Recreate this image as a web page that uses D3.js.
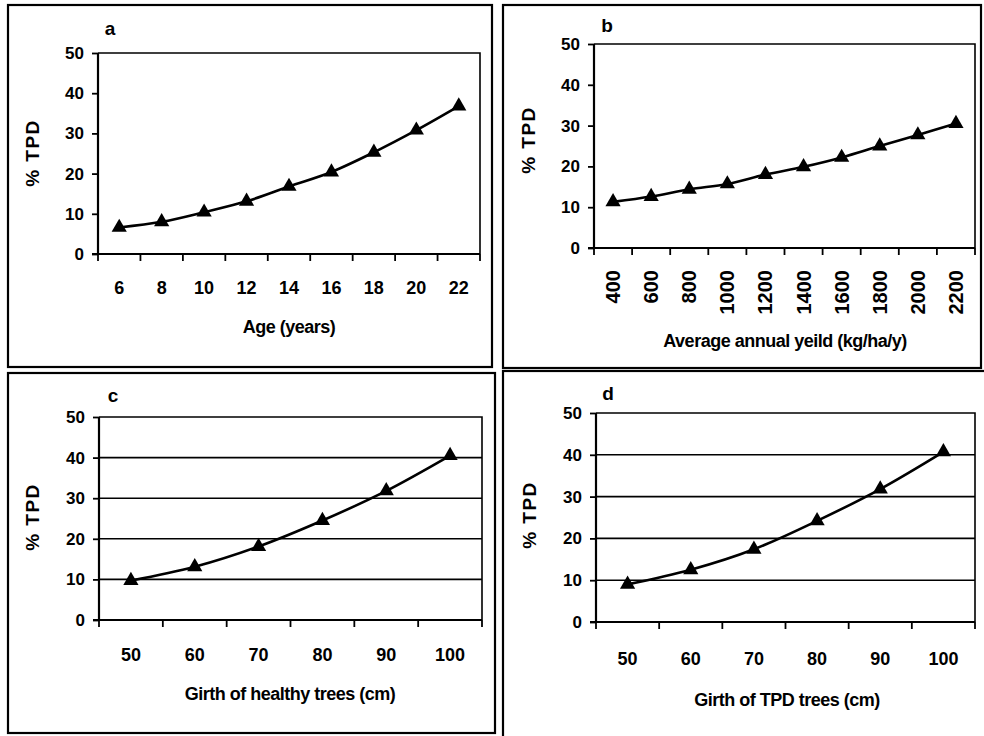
<!DOCTYPE html>
<html>
<head>
<meta charset="utf-8">
<script src="https://cdn.jsdelivr.net/npm/d3@7/dist/d3.min.js"></script>
<style>
  html, body { margin: 0; padding: 0; background: #fff; }
  svg { display: block; }
  text { font-family: "Liberation Sans", Arial, sans-serif; font-weight: bold; fill: #000; }
</style>
</head>
<body>
<svg id="chart" width="984" height="736"></svg>
<script>
// ---- Data ----
const ageCategories = ["6", "8", "10", "12", "14", "16", "18", "20", "22"];
const ageTPD = [6.6, 8.0, 10.4, 13.1, 16.8, 20.4, 25.3, 30.8, 36.8];

const yieldCategories = ["400", "600", "800", "1000", "1200", "1400", "1600", "1800", "2000", "2200"];
const yieldTPD = [11.3, 12.6, 14.4, 15.7, 18.0, 19.9, 22.2, 25.0, 27.7, 30.5];

const healthyGirthCategories = ["50", "60", "70", "80", "90", "100"];
const healthyGirthTPD = [9.7, 13.1, 18.1, 24.5, 31.8, 40.5];

const tpdGirthCategories = ["50", "60", "70", "80", "90", "100"];
const tpdGirthTPD = [9.0, 12.5, 17.4, 24.2, 31.8, 40.7];

const yTicks = [0, 10, 20, 30, 40, 50];

const panelLetters = ["a", "b", "c", "d"];
const xTitles = ["Age (years)", "Average annual yeild (kg/ha/y)", "Girth of healthy trees (cm)", "Girth of TPD trees (cm)"];
const yTitle = "% TPD";

// ---- Layout ----
const layouts = [
  { frame: [8, 5, 492, 367], plot: [98, 53, 480, 254], ytitle: [32, 153], letter: [110, 35], tickBase: 294, xtitle: [289, 333], rotate: false, grid: false },
  { frame: [503, 5, 981, 368], plot: [594, 44, 975, 248], ytitle: [528, 140], letter: [607, 32], tickBase: 270, xtitle: [785, 347], rotate: true, grid: false },
  { frame: [8, 373, 495, 733], plot: [99, 417, 482, 620], ytitle: [32, 517], letter: [113, 402], tickBase: 661, xtitle: [290, 700], rotate: false, grid: true },
  { frame: [503, 371, 990, 745], plot: [596, 413, 975, 622], ytitle: [529, 515], letter: [608, 400], tickBase: 665, xtitle: [787, 706], rotate: false, grid: true }
];

const datasets = [
  [ageCategories, ageTPD],
  [yieldCategories, yieldTPD],
  [healthyGirthCategories, healthyGirthTPD],
  [tpdGirthCategories, tpdGirthTPD]
];

const svg = d3.select("#chart");

datasets.forEach(([cats, vals], i) => {
  const L = layouts[i];
  const g = svg.append("g");
  const [fx0, fy0, fx1, fy1] = L.frame;
  g.append("rect").attr("x", fx0).attr("y", fy0).attr("width", fx1 - fx0).attr("height", fy1 - fy0)
    .attr("fill", "none").attr("stroke", "#000").attr("stroke-width", 2.2);

  const [px0, py0, px1, py1] = L.plot;
  const x = d3.scaleBand().domain(cats).range([px0, px1]).padding(0);
  const y = d3.scaleLinear().domain([0, 50]).range([py1, py0]);

  // gridlines
  if (L.grid) {
    g.append("g").selectAll("line").data(yTicks.filter(t => t > 0 && t < 50)).join("line")
      .attr("x1", px0).attr("x2", px1).attr("y1", d => y(d)).attr("y2", d => y(d))
      .attr("stroke", "#000").attr("stroke-width", 1.6);
  }
  // plot border top & right
  g.append("path").attr("d", `M${px0},${y(50)}H${px1}V${y(0)}`)
    .attr("fill", "none").attr("stroke", "#000").attr("stroke-width", 1.6);

  // y axis
  const yAxis = d3.axisLeft(y).tickValues(yTicks).tickSize(6).tickPadding(8);
  const ya = g.append("g").attr("transform", `translate(${px0},0)`).call(yAxis);
  ya.select(".domain").attr("stroke-width", 2.2).attr("d", `M0,${y(0)}V${y(50)}`);
  ya.selectAll(".tick line").attr("stroke-width", 1.8);
  ya.selectAll(".tick text").style("font-size", "17px");

  // x axis (ticks at band boundaries)
  const xa = g.append("g").attr("transform", `translate(0,${py1})`);
  xa.append("line").attr("x1", px0 - 6).attr("x2", px1).attr("y1", 0).attr("y2", 0)
    .attr("stroke", "#000").attr("stroke-width", 2.2);
  const bounds = cats.map(c => x(c)).concat([px1]);
  xa.selectAll("line.tk").data(bounds).join("line").attr("class", "tk")
    .attr("x1", d => d).attr("x2", d => d).attr("y1", 0).attr("y2", 7)
    .attr("stroke", "#000").attr("stroke-width", 1.8);
  const labels = xa.selectAll("text.lbl").data(cats).join("text").attr("class", "lbl").text(d => d);
  if (L.rotate) {
    labels.style("font-size", "20px")
      .attr("transform", d => `translate(${x(d) + x.bandwidth() / 2 + 7},${L.tickBase - py1}) rotate(-90)`)
      .attr("text-anchor", "end");
  } else {
    labels.style("font-size", "18px")
      .attr("x", d => x(d) + x.bandwidth() / 2).attr("y", L.tickBase - py1).attr("text-anchor", "middle");
  }

  // line + markers
  const pts = cats.map((c, k) => [x(c) + x.bandwidth() / 2, y(vals[k])]);
  g.append("path").attr("d", d3.line().curve(d3.curveCatmullRom.alpha(0))(pts))
    .attr("fill", "none").attr("stroke", "#000").attr("stroke-width", 2.6);
  g.append("g").selectAll("path").data(pts).join("path")
    .attr("transform", d => `translate(${d[0]},${d[1]})`)
    .attr("d", d3.symbol().type(d3.symbolTriangle).size(100)())
    .attr("fill", "#000");

  // titles
  g.append("text").attr("transform", `translate(${L.ytitle[0]},${L.ytitle[1]}) rotate(-90)`)
    .attr("text-anchor", "middle").attr("dy", "0.35em").style("font-size", "19px").style("letter-spacing", "1.5px")
    .text(yTitle);
  g.append("text").attr("x", L.letter[0]).attr("y", L.letter[1]).attr("text-anchor", "middle")
    .style("font-size", "19px").text(panelLetters[i]);
  g.append("text").attr("x", L.xtitle[0]).attr("y", L.xtitle[1]).attr("text-anchor", "middle")
    .style("font-size", "18px").style("letter-spacing", "-0.5px").text(xTitles[i]);
});
</script>
</body>
</html>
